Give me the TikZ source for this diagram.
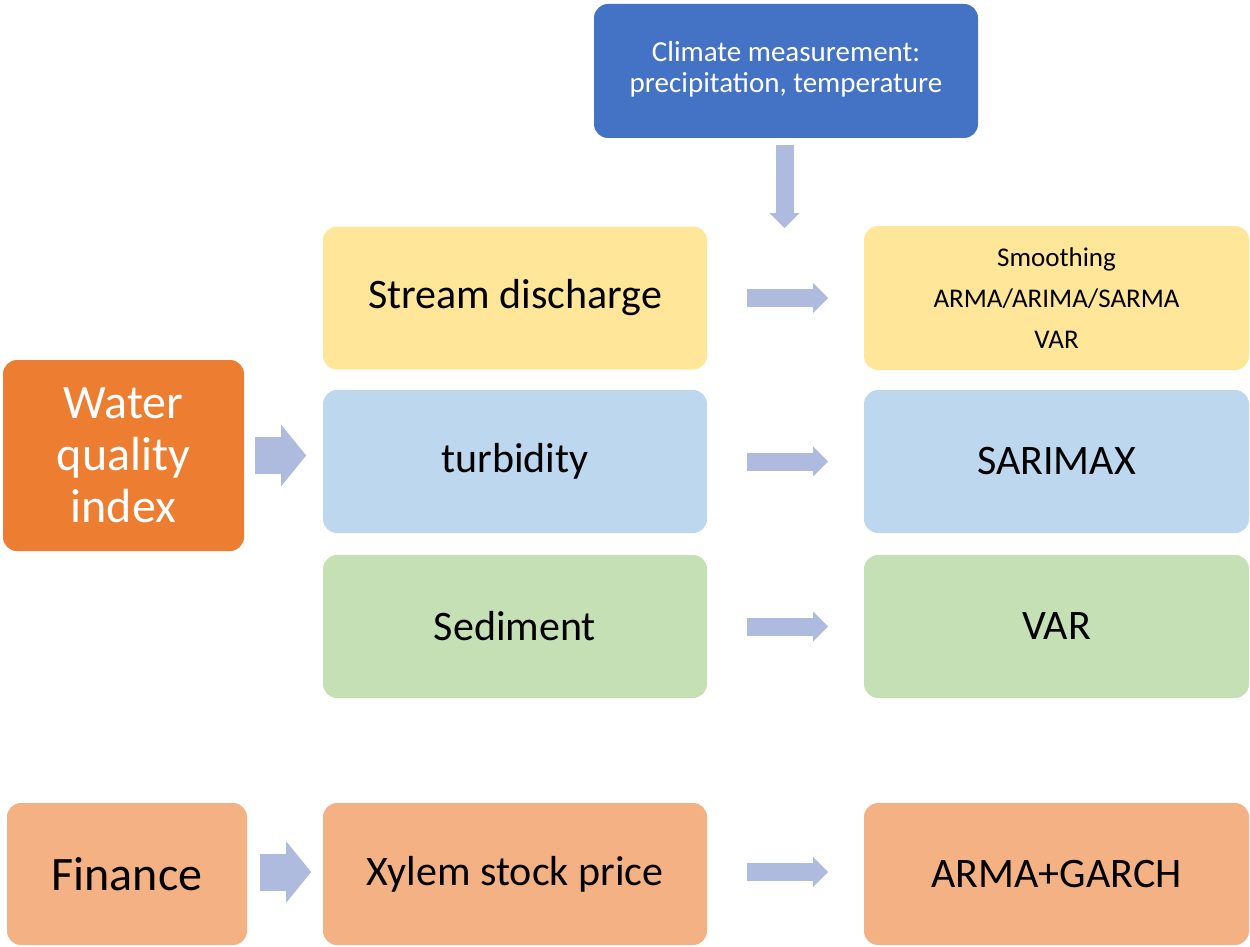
\documentclass[tikz,border=0pt]{standalone}
\usepackage{fontspec}
\setmainfont{Carlito}
\usetikzlibrary{arrows.meta}
\definecolor{climblue}{RGB}{68,114,196}
\definecolor{yel}{RGB}{255,230,153}
\definecolor{lblue}{RGB}{189,215,238}
\definecolor{lgreen}{RGB}{197,224,180}
\definecolor{orng}{RGB}{237,125,49}
\definecolor{peach}{RGB}{244,177,131}
\definecolor{arrcol}{RGB}{175,187,222}
\tikzset{
  box/.style={rounded corners=14pt, align=center, inner sep=0pt, font=\fontsize{42}{48}\selectfont, text=black},
  mid/.style={box, minimum width=384pt, minimum height=143pt},
  thin/.style={-{Triangle[length=15pt,width=29pt]}, line width=18pt, draw=arrcol},
  fat/.style={-{Triangle[length=25pt,width=60pt]}, line width=37pt, draw=arrcol},
}
\begin{document}
\begin{tikzpicture}[x=1pt,y=-1pt]
\useasboundingbox (0,0) rectangle (1250,947);
% top climate box
\node[box, fill=climblue, text=white, minimum width=384pt, minimum height=134pt,
  font=\fontsize{29}{31}\selectfont] (clim) at (786,71) {Climate measurement:\\precipitation, temperature\\[-22pt]\mbox{}};
% left column
\node[box, fill=orng, text=white, minimum width=241pt, minimum height=191pt,
  font=\fontsize{48}{52}\selectfont] (wqi) at (123.5,455.5) {Water\\quality\\index};
\node[box, fill=peach, minimum width=240pt, minimum height=142pt,
  font=\fontsize{48}{52}\selectfont] (fin) at (127,874) {Finance};
% middle column
\node[mid, fill=yel] (sd) at (515,298) {Stream discharge};
\node[mid, fill=lblue] (tb) at (515,461.5) {turbidity};
\node[mid, fill=lgreen] (sed) at (515,626.5) {Sediment};
\node[mid, fill=peach, minimum height=142pt] (xyl) at (515,874) {Xylem stock price};
% right column
\node[mid, fill=yel, minimum width=385pt, minimum height=144pt,
  font=\fontsize{27}{41}\selectfont] (m1) at (1056.5,298) {Smoothing\\ARMA/ARIMA/SARMA\\VAR};
\node[mid, fill=lblue, minimum width=385pt] (m2) at (1056.5,461.5) {SARIMAX};
\node[mid, fill=lgreen, minimum width=385pt] (m3) at (1056.5,626.5) {VAR};
\node[mid, fill=peach, minimum width=385pt, minimum height=142pt] (m4) at (1056.5,874) {ARMA+GARCH};
% arrows
\draw[thin] ([xshift=-1.5pt,yshift=-7pt]clim.south) -- ([xshift=-1.5pt,yshift=-90pt]clim.south);
\draw[thin] ([xshift=40pt]sd.east) -- ([xshift=121pt]sd.east);
\draw[thin] ([xshift=40pt]tb.east) -- ([xshift=121pt]tb.east);
\draw[thin] ([xshift=40pt]sed.east) -- ([xshift=121pt]sed.east);
\draw[thin] ([xshift=40pt,yshift=2pt]xyl.east) -- ([xshift=121pt,yshift=2pt]xyl.east);
\draw[fat] ([xshift=11pt]wqi.east) -- ([xshift=62pt]wqi.east);
\draw[fat] ([xshift=13pt,yshift=2pt]fin.east) -- ([xshift=64pt,yshift=2pt]fin.east);
\end{tikzpicture}
\end{document}
